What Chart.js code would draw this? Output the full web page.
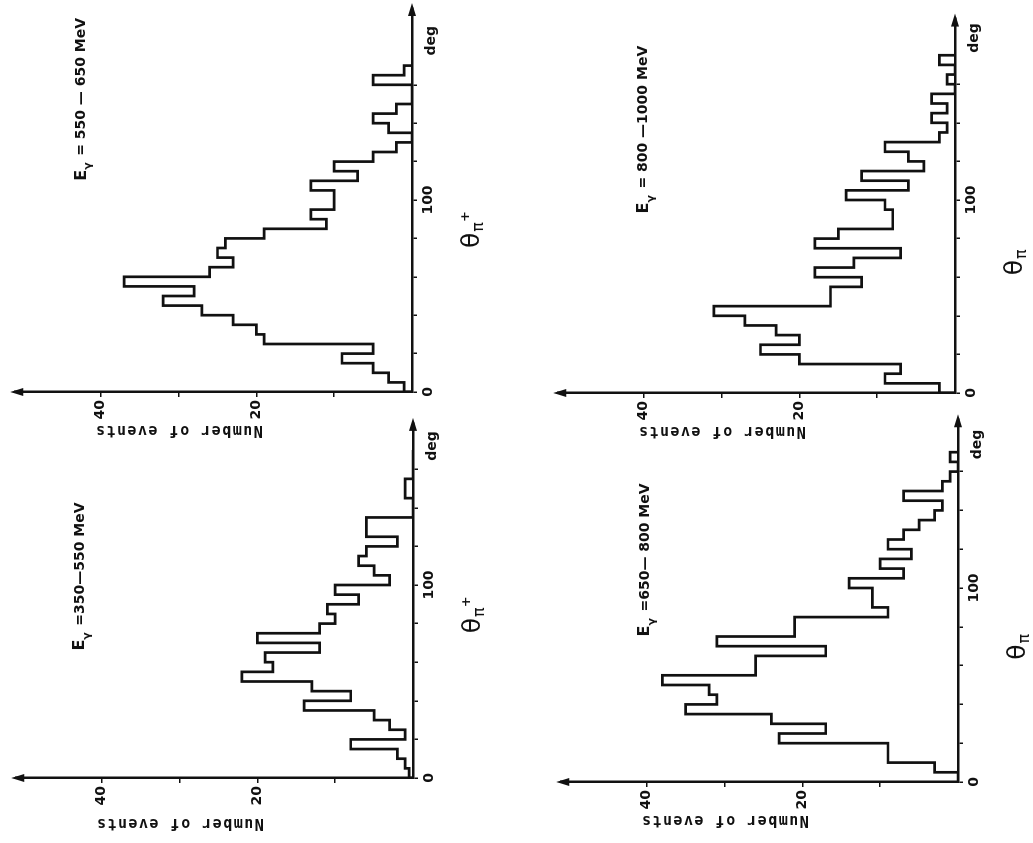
<!DOCTYPE html>
<html>
<head>
<meta charset="utf-8">
<title>Pion angular distributions</title>
<script src="https://cdn.jsdelivr.net/npm/chart.js@4.4.0/dist/chart.umd.min.js"></script>
<style>
  html, body { margin: 0; padding: 0; background: #fff; overflow: hidden; }
  body { width: 1033px; height: 843px; position: relative; }
  /* the scanned page is turned on its side: draw upright, then rotate */
  #page { position: absolute; left: 0; top: 0; width: 843px; height: 1033px;
          transform-origin: 0 0; transform: translate(0, 843px) rotate(-90deg); }
  #page canvas { position: absolute; left: 0; top: 0; }
</style>
</head>
<body>
<div id="page">
  <canvas id="p350" width="843" height="1033"></canvas>
  <canvas id="p550" width="843" height="1033"></canvas>
  <canvas id="p650" width="843" height="1033"></canvas>
  <canvas id="p800" width="843" height="1033"></canvas>
</div>
<script>
// bin edges in degrees (5 deg bins)
const thetaEdges = [0, 5, 10, 15, 20, 25, 30, 35, 40, 45, 50, 55, 60, 65, 70, 75, 80, 85,
                    90, 95, 100, 105, 110, 115, 120, 125, 130, 135, 140, 145, 150, 155, 160, 165, 170, 175];

// number of events per bin
const counts350_550 = [0.5, 1, 2, 8, 1, 3, 5, 14, 8, 13, 22, 18, 19, 12, 20, 12, 10, 11, 7, 10,
                       3, 5, 7, 6, 2, 6, 6, 0, 0, 1, 1, 0, 0, 0];
const counts550_650 = [1, 3, 5, 9, 5, 19, 20, 23, 27, 32, 28, 37, 26, 23, 25, 24, 19, 11, 13, 10,
                       10, 13, 7, 10, 5, 2, 0, 3, 5, 2, 0, 0, 5, 1];
const counts650_800 = [0, 3, 9, 9, 23, 17, 24, 35, 31, 32, 38, 26, 26, 17, 31, 21, 21, 9, 11, 11,
                       14, 7, 10, 6, 9, 7, 5, 3, 2, 7, 2, 1, 0, 1];
const counts800_1000 = [2, 9, 7, 20, 25, 20, 23, 27, 31, 16, 16, 12, 18, 13, 7, 18, 15, 8, 8, 9,
                        14, 6, 12, 4, 6, 9, 2, 1, 3, 1, 3, 0, 1, 0, 2];

const thetaTickLabels = [0, 100];
const eventTickLabels = [20, 40];

const W = 843, H = 1033;
const Y_AXIS_W = 50, X_AXIS_H = 40;
const EV_PX = 7.78, EV_MAX = 51;
const INK = '#111';

const panels = [
  { id: 'p350', values: counts350_550, energy: '=350—550 MeV', charge: '+',
    x0: 65, y0: 413, degPx: 1.93, thetaMax: 184, degAt: 172, symAt: 75, labelAt: [66, 42.8], titleGap: 45 },
  { id: 'p550', values: counts550_650, energy: '= 550 — 650 MeV', charge: '+',
    x0: 451, y0: 412, degPx: 1.92, thetaMax: 200, degAt: 183, symAt: 75, labelAt: [110, 42.5], titleGap: 38 },
  { id: 'p650', values: counts650_800, energy: '=650— 800 MeV', charge: '',
    x0: 61, y0: 958, degPx: 1.94, thetaMax: 187, degAt: 174, symAt: 63, labelAt: [75, 40.2], titleGap: 38 },
  { id: 'p800', values: counts800_1000, energy: '= 800 —1000 MeV', charge: '',
    x0: 450, y0: 955, degPx: 1.93, thetaMax: 194, degAt: 184, symAt: 61, labelAt: [93, 40], titleGap: 38 }
];

// outline histogram as a stepped line
function histPoints(values) {
  const pts = [{ x: thetaEdges[0], y: 0 }];
  values.forEach((v, i) => pts.push({ x: thetaEdges[i], y: v }));
  pts.push({ x: thetaEdges[values.length], y: 0 });
  return pts;
}

function arrowHead(ctx, x, y, dir) {
  ctx.beginPath();
  if (dir === 'right') {
    ctx.moveTo(x + 5, y); ctx.lineTo(x - 8, y - 4); ctx.lineTo(x - 8, y + 4);
  } else {
    ctx.moveTo(x, y - 5); ctx.lineTo(x - 4, y + 8); ctx.lineTo(x + 4, y + 8);
  }
  ctx.closePath();
  ctx.fill();
}

function decorate(p) {
  return {
    id: 'decorate',
    afterDraw(chart) {
      const { ctx, chartArea: a, scales: { x, y } } = chart;
      ctx.save();
      ctx.fillStyle = INK;
      arrowHead(ctx, a.right, a.bottom, 'right');
      arrowHead(ctx, a.left, a.top, 'up');

      // "deg" at the end of the angle axis
      ctx.font = 'bold 14px "DejaVu Sans"';
      ctx.textAlign = 'center';
      ctx.textBaseline = 'middle';
      ctx.fillText('deg', x.getPixelForValue(p.degAt), a.bottom + 19);

      // axis title for the number of events
      ctx.save();
      ctx.translate(a.left - p.titleGap, y.getPixelForValue(30));
      ctx.rotate(-Math.PI / 2);
      ctx.font = 'bold 15px "DejaVu Sans Mono"';
      ctx.letterSpacing = '1.5px';
      ctx.fillText('Number of events', 0, 0);
      ctx.restore();

      // theta symbol
      let tx = x.getPixelForValue(p.symAt);
      const ty = a.bottom + 60;
      ctx.textAlign = 'left';
      ctx.font = '25px "DejaVu Sans"';
      ctx.fillText('θ', tx, ty);
      tx += ctx.measureText('θ').width + 1;
      ctx.font = '16px "DejaVu Sans"';
      ctx.fillText('π', tx, ty + 7);
      if (p.charge) {
        tx += ctx.measureText('π').width;
        ctx.font = 'bold 13px "DejaVu Sans"';
        ctx.fillText(p.charge, tx, ty - 6);
      }

      // photon energy range
      let ex = x.getPixelForValue(p.labelAt[0]);
      const ey = y.getPixelForValue(p.labelAt[1]);
      ctx.font = 'bold 16px "DejaVu Sans"';
      ctx.fillText('E', ex, ey);
      ex += ctx.measureText('E').width;
      ctx.font = 'bold 11px "DejaVu Sans"';
      ctx.fillText('γ', ex, ey + 7);
      ex += 14;
      ctx.font = 'bold 14px "DejaVu Sans"';
      ctx.fillText(p.energy, ex, ey);
      ctx.restore();
    }
  };
}

const tickFont = { family: 'DejaVu Sans', size: 14, weight: 'bold' };

function makeChart(p) {
  const right = p.x0 + p.thetaMax * p.degPx;
  const top = p.y0 - EV_MAX * EV_PX;
  return new Chart(document.getElementById(p.id), {
    type: 'line',
    data: {
      datasets: [{
        data: histPoints(p.values),
        stepped: true,
        borderColor: INK,
        borderWidth: 2.7,
        borderJoinStyle: 'miter',
        pointRadius: 0,
        fill: false
      }]
    },
    options: {
      responsive: false,
      animation: false,
      events: [],
      layout: {
        padding: { left: p.x0 - Y_AXIS_W, right: W - right, top: top, bottom: H - p.y0 - X_AXIS_H }
      },
      plugins: {
        legend: { display: false },
        tooltip: { enabled: false }
      },
      scales: {
        x: {
          type: 'linear',
          min: 0,
          max: p.thetaMax,
          afterFit: s => { s.height = X_AXIS_H; },
          afterBuildTicks: s => { s.ticks = s.ticks.filter(t => t.value <= 160); },
          ticks: {
            stepSize: 20,
            includeBounds: false,
            autoSkip: false,
            maxRotation: 0,
            padding: 3,
            color: INK,
            font: tickFont,
            callback: v => thetaTickLabels.includes(v) ? String(v) : ''
          },
          grid: { drawOnChartArea: false, tickLength: 5, color: INK, lineWidth: 1.5 },
          border: { display: true, color: INK, width: 2.5 }
        },
        y: {
          min: 0,
          max: EV_MAX,
          afterFit: s => { s.width = Y_AXIS_W; },
          afterBuildTicks: s => { s.ticks = s.ticks.filter(t => t.value > 0 && t.value <= 40); },
          ticks: {
            stepSize: 10,
            includeBounds: false,
            autoSkip: false,
            padding: 3,
            color: INK,
            font: tickFont,
            callback: v => eventTickLabels.includes(v) ? String(v) : ''
          },
          grid: { drawOnChartArea: false, tickLength: 5, color: INK, lineWidth: 1.5 },
          border: { display: true, color: INK, width: 2.5 }
        }
      }
    },
    plugins: [decorate(p)]
  });
}

panels.forEach(makeChart);
</script>
</body>
</html>
